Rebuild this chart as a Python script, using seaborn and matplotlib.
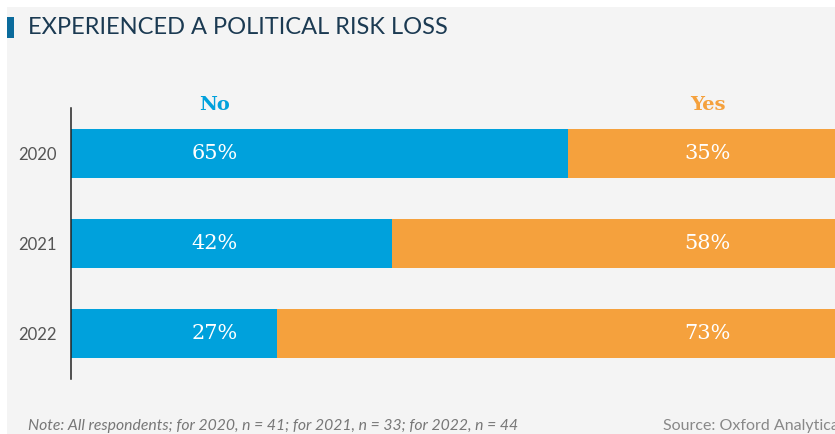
import matplotlib
matplotlib.use("Agg")
import matplotlib.pyplot as plt
import seaborn as sns
import pandas as pd
from matplotlib.patches import Rectangle

# Survey results: share of respondents that experienced a political risk loss
years = ["2020", "2021", "2022"]
no_pct = [65, 42, 27]
yes_pct = [35, 58, 73]
series_names = ["No", "Yes"]
title = "EXPERIENCED A POLITICAL RISK LOSS"
note = "Note: All respondents; for 2020, n = 41; for 2021, n = 33; for 2022, n = 44"
source = "Source: Oxford Analytica"

BLUE = "#00a1dc"
ORANGE = "#f5a13d"
NAVY = "#1b3a52"
PANEL = "#f4f4f4"

sns.set_theme(style="white")
plt.rcParams["font.family"] = ["Lato", "DejaVu Sans"]

df = pd.DataFrame({"year": years, "No": no_pct, "Yes": yes_pct})
df["total"] = df["No"] + df["Yes"]

W, H = 835, 434
fig = plt.figure(figsize=(W / 100, H / 100), dpi=100, facecolor="white")

# light grey panel behind everything
fig.patches.append(Rectangle((7 / W, 0), 1, 1 - 7 / H, transform=fig.transFigure,
                             facecolor=PANEL, edgecolor="none", zorder=-10))

ax = fig.add_axes([71 / W, 1 - 379 / H, (835 - 71) / W, (379 - 108) / H])
ax.set_facecolor("none")

# stacked bars: full-length "Yes" segment underneath, "No" segment on top
sns.barplot(data=df, y="year", x="total", orient="h", color=ORANGE,
            width=0.545, saturation=1, linewidth=0, ax=ax)
sns.barplot(data=df, y="year", x="No", orient="h", color=BLUE,
            width=0.545, saturation=1, linewidth=0, ax=ax)

ax.set_xlim(0, 100)
ax.set_ylim(2.5, -0.5)
ax.set_xlabel("")
ax.set_ylabel("")
ax.set_xticks([])
for side in ["top", "right", "bottom"]:
    ax.spines[side].set_visible(False)
ax.spines["left"].set_color("#222222")
ax.spines["left"].set_linewidth(1.1)
ax.spines["left"].set_zorder(5)
ax.tick_params(axis="y", length=0, pad=10, labelsize=12, labelcolor="#555555")

# column positions for value labels and headers
col_x = {"No": 18.8, "Yes": 83.3}
col_color = {"No": BLUE, "Yes": ORANGE}

for name in series_names:
    ax.text(col_x[name], -0.535, name, ha="center", va="center",
            fontsize=14, fontweight="bold", color=col_color[name],
            family="DejaVu Serif", clip_on=False)

for i, y in enumerate(years):
    ax.text(col_x["No"], i, f"{no_pct[i]}%", ha="center", va="center",
            fontsize=15, color="white", family="DejaVu Serif")
    ax.text(col_x["Yes"], i, f"{yes_pct[i]}%", ha="center", va="center",
            fontsize=15, color="white", family="DejaVu Serif")

# title with marker
fig.patches.append(Rectangle((7 / W, 1 - 38 / H), 7 / W, 21 / H,
                             transform=fig.transFigure, facecolor="#0b6b9c",
                             edgecolor="none"))
fig.text(28 / W, 1 - 28 / H, title, ha="left", va="center", fontsize=17,
         color=NAVY)

fig.text(28 / W, 1 - 426 / H, note, ha="left", va="center", fontsize=11.3,
         style="italic", color="#777777")
fig.text(663 / W, 1 - 426 / H, source, ha="left", va="center", fontsize=11.5,
         color="#888888")

fig.savefig("out.png", dpi=100, facecolor="white")
